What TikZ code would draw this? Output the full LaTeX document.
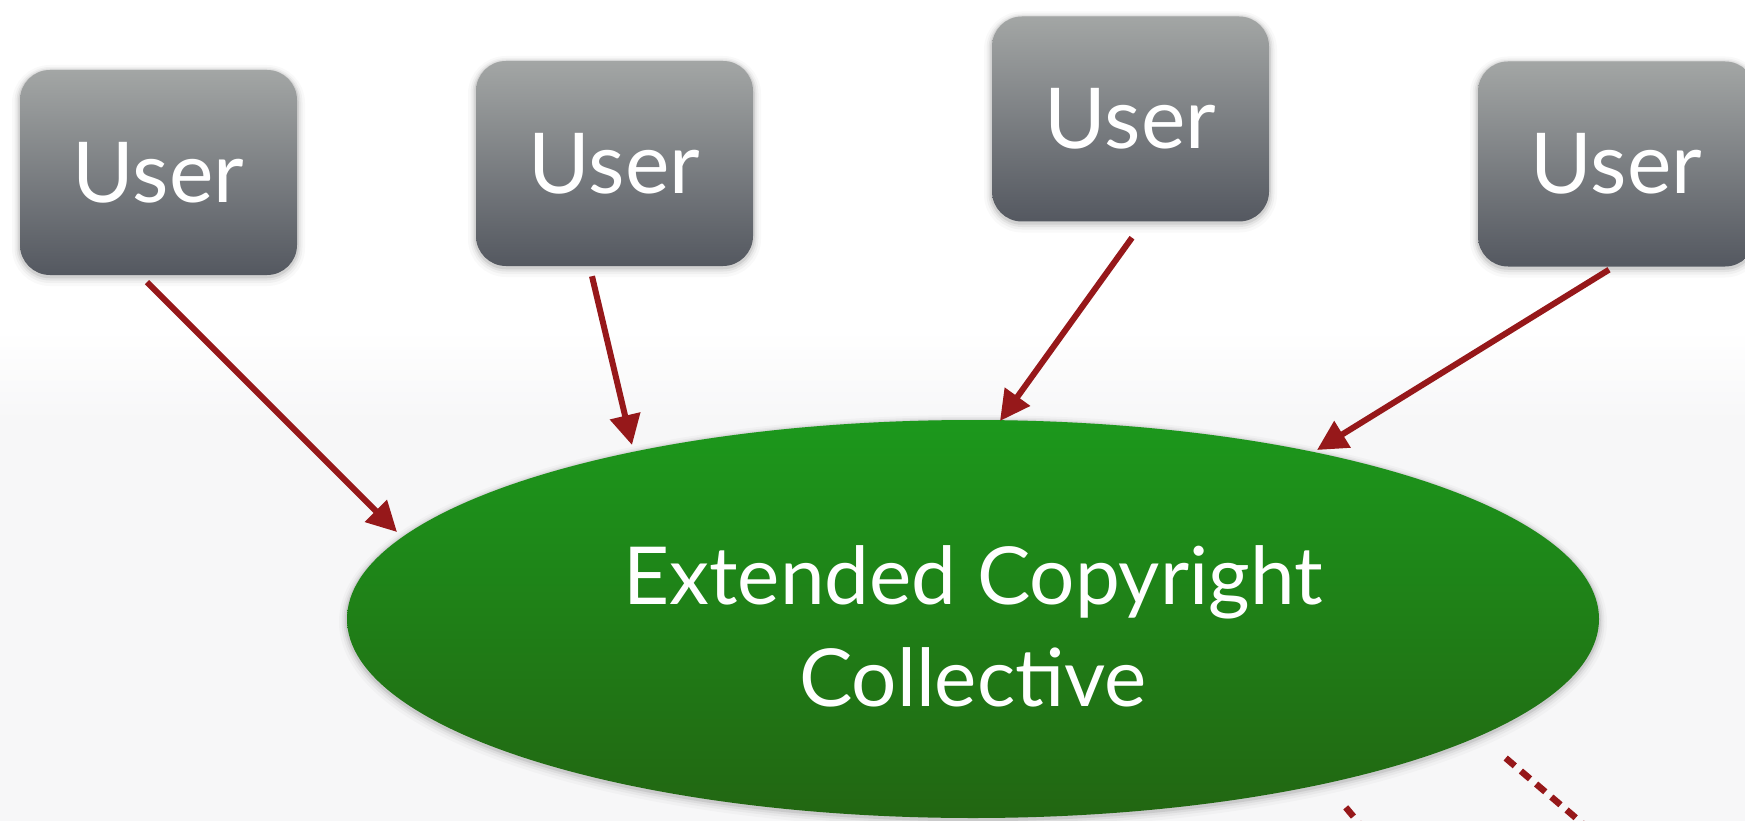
\documentclass[tikz,border=0pt]{standalone}
\usepackage{fontspec}
\setmainfont{Lato}
\usetikzlibrary{arrows.meta,shapes.geometric}
\definecolor{boxtop}{RGB}{163,166,165}
\definecolor{boxbot}{RGB}{84,88,96}
\definecolor{elltop}{RGB}{28,152,28}
\definecolor{ellbot}{RGB}{34,102,18}
\definecolor{arrowred}{RGB}{150,24,26}
\definecolor{bgg}{RGB}{247,247,248}
\tikzset{
  glow/.style={
    preaction={draw=black, draw opacity=0.025, line width=16pt, transform canvas={yshift=-3pt}},
    preaction={draw=black, draw opacity=0.035, line width=11pt, transform canvas={yshift=-2.5pt}},
    preaction={draw=black, draw opacity=0.05, line width=7pt, transform canvas={yshift=-2pt}},
    preaction={draw=black, draw opacity=0.08, line width=3.5pt, transform canvas={yshift=-1.5pt}}},
  userbox/.style={rectangle, rounded corners=30pt, minimum width=277pt, minimum height=205pt,
    top color=boxtop, bottom color=boxbot, text=white, inner sep=0pt,
    font=\fontsize{84}{90}\selectfont, glow},
  collective/.style={ellipse, minimum width=1252pt, minimum height=398pt, inner sep=0pt,
    top color=elltop, bottom color=ellbot, text=white, align=center,
    font=\fontsize{80}{102}\selectfont, glow},
  arr/.style={draw=arrowred, line width=6pt, -{Triangle[length=30pt,width=30pt]}},
  dashline/.style={draw=arrowred, line width=6.5pt, dash pattern=on 12pt off 8pt}
}
\begin{document}
\begin{tikzpicture}[x=1pt,y=-1pt]
\useasboundingbox (0,0) rectangle (1745,821);
\clip (0,0) rectangle (1745,821);
\fill[white] (0,0) rectangle (1745,330);
\shade[top color=white, bottom color=bgg] (0,330) rectangle (1745,420);
\fill[bgg] (0,420) rectangle (1745,821);

\node[userbox] (u1) at (158.5,172.5) {User};
\node[userbox] (u2) at (614.5,163.5) {User};
\node[userbox] (u3) at (1130.5,119) {User};
\node[userbox] (u4) at (1616.5,164) {User};

\node[collective] (ell) at (973,619) {\rule{0pt}{74pt}Extended Copyright\\Collective};

\draw[arr] ([xshift=-11.5pt,yshift=-7pt]u1.south) -- ([xshift=-576pt,yshift=87pt]ell.center);
\draw[arr] ([xshift=-22.5pt,yshift=-10pt]u2.south) -- ([xshift=-341pt,yshift=174pt]ell.center);
\draw[arr] ([xshift=1.5pt,yshift=-16pt]u3.south) -- ([xshift=27pt,yshift=198pt]ell.center);
\draw[arr] ([xshift=-7.5pt,yshift=-3pt]u4.south) -- ([xshift=344pt,yshift=169pt]ell.center);

\coordinate (d1) at (1610,847);
\coordinate (d2) at (1368,834);
\draw[dashline, shorten <=34pt] (ell.347.3) -- (d1);
\draw[dashline, shorten <=31pt] (ell.335.7) -- (d2);
\end{tikzpicture}
\end{document}
